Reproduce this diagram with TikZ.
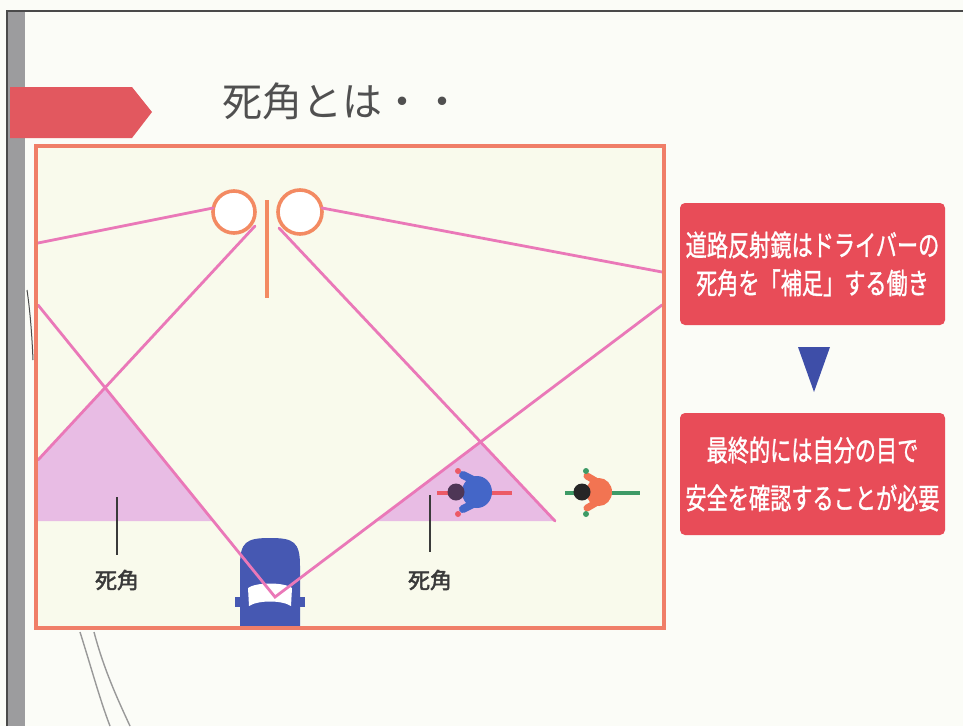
\documentclass[tikz,border=0pt]{standalone}
\usepackage{fontspec}
\newfontfamily\jp{Noto Sans CJK JP}
\newfontfamily\jpm[FakeBold=1.2]{Noto Sans CJK JP}
\newfontfamily\jpb[FakeBold=2.2]{Noto Sans CJK JP}
\definecolor{paper}{HTML}{FBFCF7}
\definecolor{road}{HTML}{F9FAEC}
\definecolor{framered}{HTML}{F07E68}
\definecolor{bannerred}{HTML}{E2585F}
\definecolor{sightpink}{HTML}{EA78B8}
\definecolor{blindpink}{HTML}{E8BCE4}
\definecolor{mirrororange}{HTML}{F38A62}
\definecolor{carblue}{HTML}{4658B2}
\definecolor{boxred}{HTML}{E84C58}
\definecolor{arrowblue}{HTML}{3E4EA8}
\definecolor{titlegray}{HTML}{505050}
\definecolor{labelgray}{HTML}{3A3A3A}
\definecolor{bargray}{HTML}{9C9C9E}
\definecolor{edgegray}{HTML}{4A4A4A}
\definecolor{shirtblue}{HTML}{4466C8}
\definecolor{shirtorange}{HTML}{F27452}
\definecolor{bikered}{HTML}{EC5A66}
\definecolor{bikegreen}{HTML}{3E9A66}
\definecolor{headpurple}{HTML}{4E3656}
\begin{document}
\begin{tikzpicture}[x=1pt,y=-1pt,
  sight/.style={draw=sightpink, line width=2.8pt, line cap=round},
  blind/.style={fill=blindpink},
  mirror/.style={draw=mirrororange, line width=3.6pt, fill=white},
  tick/.style={draw=labelgray, line width=2.6pt},
  blindlabel/.style={font=\jpb\fontsize{22}{22}\selectfont, text=labelgray, inner sep=0pt},
  notebox/.style={fill=boxred, rounded corners=5pt, minimum width=265pt,
    minimum height=122pt, inner sep=0pt, text=white, align=center},
]
\useasboundingbox (0,0) rectangle (963,726);
\fill[paper] (0,0) rectangle (963,726);

% page edges
\fill[bargray] (7,11) rectangle (25,726);
\draw[edgegray, line width=2pt] (7,726) -- (7,11) -- (963,11);
\draw[gray!80, line width=1.4pt] (80,632) .. controls (92,670) and (100,700) .. (110,726);
\draw[gray!80, line width=1.4pt] (94,632) .. controls (104,670) and (118,700) .. (130,726);
\draw[edgegray, line width=1pt] (27,290) .. controls (30,310) and (32,335) .. (33,360);

% section banner and title
\fill[bannerred] (10,87) -- (132,87) -- (152,112) -- (132,138) -- (10,138) -- cycle;
\node[font=\jp\fontsize{40}{40}\selectfont, text=titlegray, inner sep=0pt] (title) at (342,101) {死角とは・・};

% road frame
\fill[road] (36,146) rectangle (664,628);

% sight lines geometry
\coordinate (m1) at (213,208);  \coordinate (e1) at (38,243);
\coordinate (m2) at (322,208);  \coordinate (e2) at (662,272);
\coordinate (m3) at (255,226);  \coordinate (e3) at (38,460);
\coordinate (m4) at (279,228);  \coordinate (e4) at (555,521);
\coordinate (s5) at (38,305);   \coordinate (car) at (275,597);
\coordinate (s6) at (662,305);
\coordinate (lapex) at (intersection of m3--e3 and s5--car);
\coordinate (rapex) at (intersection of m4--e4 and s6--car);
\coordinate (lfoot) at (intersection of s5--car and 38,521--662,521);
\coordinate (rfoot) at (intersection of s6--car and 38,521--662,521);

% blind spot areas
\fill[blind] (e3) -- (lapex) -- (lfoot) -- (38,521) -- cycle;
\fill[blind] (rfoot) -- (rapex) -- (e4) -- cycle;

% car seen from above
\fill[carblue] (240,628) -- (240,566) .. controls (240,542) and (246,538) .. (270,538)
  .. controls (294,538) and (300,542) .. (300,566) -- (300,628) -- cycle;
\fill[carblue] (235,597) rectangle (305,607);
\fill[white] (248,588) .. controls (256,582) and (284,582) .. (292,588)
  -- (291,606) .. controls (282,600) and (258,600) .. (249,606) -- cycle;

% mirror
\draw[mirrororange, line width=3.4pt] (267,200) -- (267,298);
\draw[mirror] (234,212) circle[radius=21pt];
\draw[mirror] (300,212) circle[radius=22pt];

% sight lines
\draw[sight] (m1) -- (e1);
\draw[sight] (m2) -- (e2);
\draw[sight] (m3) -- (e3);
\draw[sight] (m4) -- (e4);
\draw[sight] (s5) -- (car) -- (s6);

% cyclist inside the blind spot
\draw[bikered, line width=4pt] (437,493) -- (512,493);
\fill[shirtblue] (477,492) ellipse[x radius=15pt, y radius=16pt];
\draw[shirtblue, line width=8pt, line cap=round] (477,482) -- (463,475);
\draw[shirtblue, line width=8pt, line cap=round] (477,502) -- (463,509);
\fill[bikered] (458,471) circle[radius=3pt];
\fill[bikered] (458,514) circle[radius=3pt];
\fill[headpurple] (456,492) circle[radius=8.5pt];

% cyclist outside the blind spot
\draw[bikegreen, line width=4pt] (565,493) -- (640,493);
\fill[shirtorange] (599,492) ellipse[x radius=13pt, y radius=14pt];
\draw[shirtorange, line width=7pt, line cap=round] (599,483) -- (587,476);
\draw[shirtorange, line width=7pt, line cap=round] (599,501) -- (587,508);
\fill[bikegreen] (586,471) circle[radius=3pt];
\fill[bikegreen] (586,514) circle[radius=3pt];
\fill[black!85] (582,492) circle[radius=8.5pt];

% blind spot labels
\draw[tick] (117,497) -- (117,555);
\draw[tick] (430,495) -- (430,552);
\node[blindlabel] (lbl1) at (117,580) {死角};
\node[blindlabel] (lbl2) at (430,580) {死角};

% frame border
\draw[framered, line width=4.5pt] (36,146) rectangle (664,628);

% explanation boxes
\node[notebox, font=\jpm\fontsize{29}{38}\selectfont] (note1) at (812.5,264)
  {\scalebox{0.73}[1]{道路反射鏡はドライバーの}\\\scalebox{0.73}[1]{死角を「補足」する働き}};
\node[notebox, font=\jpm\fontsize{29}{48}\selectfont] (note2) at (812.5,474)
  {\scalebox{0.73}[1]{最終的には自分の目で}\\\scalebox{0.73}[1]{安全を確認することが必要}};
\fill[arrowblue] (798,347) -- (830,347) -- (814,392) -- cycle;
\end{tikzpicture}
\end{document}
